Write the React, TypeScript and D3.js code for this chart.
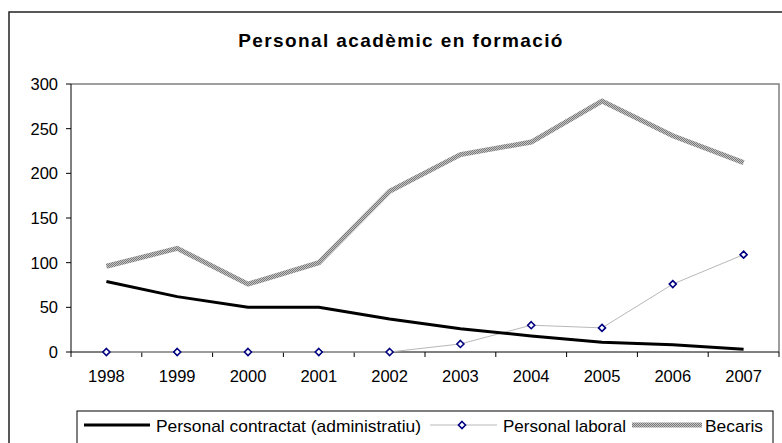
import React from "react";
import * as d3 from "d3";

const years = ["1998", "1999", "2000", "2001", "2002", "2003", "2004", "2005", "2006", "2007"];
const contractat = [79, 62, 50, 50, 37, 26, 18, 11, 8, 3];
const laboral = [0, 0, 0, 0, 0, 9, 30, 27, 76, 109];
const becaris = [96, 116, 76, 100, 180, 221, 235, 281, 242, 212];
const yTicks = [0, 50, 100, 150, 200, 250, 300];
const title = "Personal acadèmic en formació";
const seriesNames = ["Personal contractat (administratiu)", "Personal laboral", "Becaris"];

const W = 782;
const H = 443;
const plot = { left: 71, top: 84, right: 779, bottom: 352 };
const font = "'Liberation Sans', Arial, sans-serif";

export default function App() {
  const x = d3.scaleBand<string>().domain(years).range([plot.left, plot.right]).padding(0);
  const y = d3.scaleLinear().domain([0, 300]).range([plot.bottom, plot.top]);
  const cx = (i: number) => (x(years[i]) as number) + x.bandwidth() / 2;
  const line = d3
    .line<number>()
    .x((_, i) => cx(i))
    .y((d) => y(d));

  const diamond = (px: number, py: number, r = 3.5) =>
    `M${px},${py - r}L${px + r},${py}L${px},${py + r}L${px - r},${py}Z`;

  const boundaries = years.map((yr) => x(yr) as number).concat([plot.right]);

  return (
    <svg
      width={W}
      height={H}
      style={{ position: "absolute", left: 0, top: 0, display: "block", background: "#fff" }}
    >
      <defs>
        <pattern id="hatch" width="2" height="2" patternUnits="userSpaceOnUse">
          <rect width="2" height="2" fill="#c4c4c4" />
          <rect width="1" height="1" fill="#7a7a7a" />
          <rect x="1" y="1" width="1" height="1" fill="#7a7a7a" />
        </pattern>
      </defs>
      <rect x={0} y={0} width={W} height={H} fill="#fff" />
      {/* outer chart border */}
      <rect x={9} y={12} width={800} height={500} fill="none" stroke="#222" strokeWidth={1.5} />

      {/* title */}
      <text
        x={401}
        y={47}
        textAnchor="middle"
        fontFamily={font}
        fontWeight="bold"
        fontSize={19}
        letterSpacing={1.4}
        fill="#000"
      >
        {title}
      </text>

      {/* plot area frame (top and right) */}
      <path
        d={`M${plot.left},${plot.top}H${plot.right}V${plot.bottom}`}
        fill="none"
        stroke="#808080"
        strokeWidth={1.5}
      />

      {/* y axis */}
      <line x1={plot.left} x2={plot.left} y1={plot.top} y2={plot.bottom} stroke="#000" strokeWidth={1} />
      {yTicks.map((t) => (
        <g key={t}>
          <line x1={plot.left - 5} x2={plot.left} y1={y(t)} y2={y(t)} stroke="#000" />
          <text
            x={58}
            y={y(t) + 6}
            textAnchor="end"
            fontFamily={font}
            fontSize={16.5}
            fill="#000"
          >
            {t}
          </text>
        </g>
      ))}

      {/* x axis */}
      <line x1={plot.left} x2={plot.right} y1={plot.bottom} y2={plot.bottom} stroke="#000" strokeWidth={1} />
      {boundaries.map((b, i) => (
        <line key={i} x1={b} x2={b} y1={plot.bottom} y2={plot.bottom + 5} stroke="#000" />
      ))}
      {years.map((yr, i) => (
        <text
          key={yr}
          x={cx(i)}
          y={382}
          textAnchor="middle"
          fontFamily={font}
          fontSize={16.5}
          fill="#000"
        >
          {yr}
        </text>
      ))}

      {/* series */}
      <path d={line(becaris) || ""} fill="none" stroke="url(#hatch)" strokeWidth={5} strokeLinejoin="miter" />
      <path d={line(laboral) || ""} fill="none" stroke="#b8b8b8" strokeWidth={1} />
      <path d={line(contractat) || ""} fill="none" stroke="#000" strokeWidth={3} strokeLinejoin="round" />
      {laboral.map((v, i) => (
        <path key={i} d={diamond(cx(i), y(v))} fill="#fff" stroke="#000080" strokeWidth={1.6} />
      ))}

      {/* legend */}
      <rect x={77} y={411} width={696} height={60} fill="#fff" stroke="#000" strokeWidth={1} />
      <line x1={84} x2={150} y1={425} y2={425} stroke="#000" strokeWidth={3} />
      <text x={156} y={431.5} fontFamily={font} fontSize={17} fill="#000" textLength={265} lengthAdjust="spacingAndGlyphs">
        {seriesNames[0]}
      </text>
      <line x1={430} x2={497} y1={425} y2={425} stroke="#b8b8b8" strokeWidth={1} />
      <path d={diamond(462, 425)} fill="#fff" stroke="#000080" strokeWidth={1.6} />
      <text x={503} y={431.5} fontFamily={font} fontSize={17} fill="#000" textLength={123} lengthAdjust="spacingAndGlyphs">
        {seriesNames[1]}
      </text>
      <line x1={632} x2={702} y1={425} y2={425} stroke="url(#hatch)" strokeWidth={5} />
      <text x={705} y={431.5} fontFamily={font} fontSize={17} fill="#000" textLength={58} lengthAdjust="spacingAndGlyphs">
        {seriesNames[2]}
      </text>
    </svg>
  );
}
